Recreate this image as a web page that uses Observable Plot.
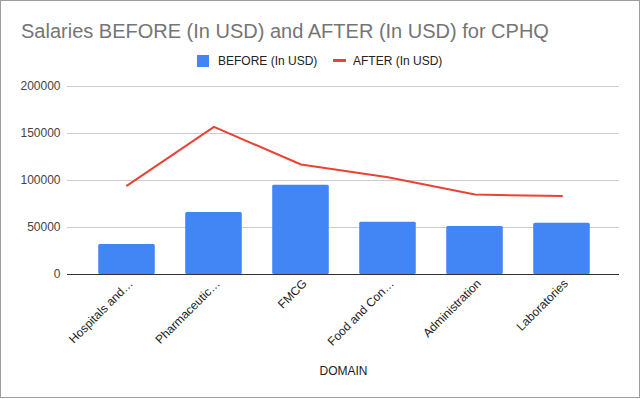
<!DOCTYPE html>
<html>
<head>
<meta charset="utf-8">
<script src="https://cdn.jsdelivr.net/npm/d3@7"></script>
<script src="https://cdn.jsdelivr.net/npm/@observablehq/plot@0.6"></script>
<style>
  html, body { margin: 0; padding: 0; background: #fff; }
  #wrap { position: relative; width: 642px; height: 399px; overflow: hidden; font-family: "Liberation Sans", Arial, sans-serif; }
  #frame { position: absolute; left: 0; top: 0; width: 638px; height: 396px; border: 1px solid #9e9e9e; pointer-events: none; }
  #title { position: absolute; left: 21px; top: 21px; font-size: 20px; line-height: 20px; color: #757575; white-space: nowrap; }
  .leg { position: absolute; font-size: 12px; line-height: 12px; color: #222; white-space: nowrap; }
  .sw { position: absolute; }
  #chart { position: absolute; left: 0; top: 0; }
</style>
</head>
<body>
<div id="wrap">
  <div id="chart"></div>
  <div id="title">Salaries BEFORE (In USD) and AFTER (In USD) for CPHQ</div>
  <div class="sw" style="left:197px;top:55px;width:12px;height:12px;background:#4285f4"></div>
  <div class="leg" style="left:218px;top:55px">BEFORE (In USD)</div>
  <div class="sw" style="left:333px;top:59px;width:13px;height:3px;background:#ea4335"></div>
  <div class="leg" style="left:353px;top:55px">AFTER (In USD)</div>
  <div id="frame"></div>
</div>
<script>
const categories = ["Hospitals and…", "Pharmaceutic…", "FMCG", "Food and Con…", "Administration", "Laboratories"];
const before = [32000, 66000, 95000, 55500, 51000, 54500];
const after = [94500, 157000, 117000, 103500, 85000, 83500];
const yTicks = [0, 50000, 100000, 150000, 200000];

const data = categories.map((c, i) => ({domain: c, before: before[i], after: after[i]}));

const chart = Plot.plot({
  width: 642,
  height: 399,
  marginTop: 86,
  marginBottom: 125,
  marginLeft: 67,
  marginRight: 23,
  style: {fontFamily: "'Liberation Sans', Arial, sans-serif", fontSize: "12px", background: "transparent", overflow: "visible"},
  x: {domain: categories, insetLeft: 16, insetRight: 14, paddingInner: 0.35, paddingOuter: 0.175, round: false},
  y: {domain: [0, 200000]},
  marks: [
    Plot.gridY(yTicks, {stroke: "#cccccc", strokeOpacity: 1, strokeWidth: 1}),
    Plot.barY(data, {x: "domain", y: "before", fill: "#4285f4", rx: 1.5}),
    Plot.ruleY([0], {stroke: "#333333", strokeWidth: 1.2}),
    Plot.lineY(data, {x: "domain", y: "after", stroke: "#ea4335", strokeWidth: 2}),
    Plot.axisY({ticks: yTicks, tickSize: 0, tickPadding: 7, tickFormat: d => String(d), label: null, fill: "#444", fontSize: 12}),
    Plot.axisX({tickSize: 0, tickRotate: -45, tickPadding: 7, dx: 4, fill: "#222", fontSize: 12, label: null}),
    Plot.axisX({ticks: [], tickSize: 0, label: "DOMAIN", labelAnchor: "center", labelArrow: "none", labelOffset: 100, fill: "#222", fontSize: 12})
  ]
});
document.getElementById("chart").appendChild(chart);
</script>
</body>
</html>
